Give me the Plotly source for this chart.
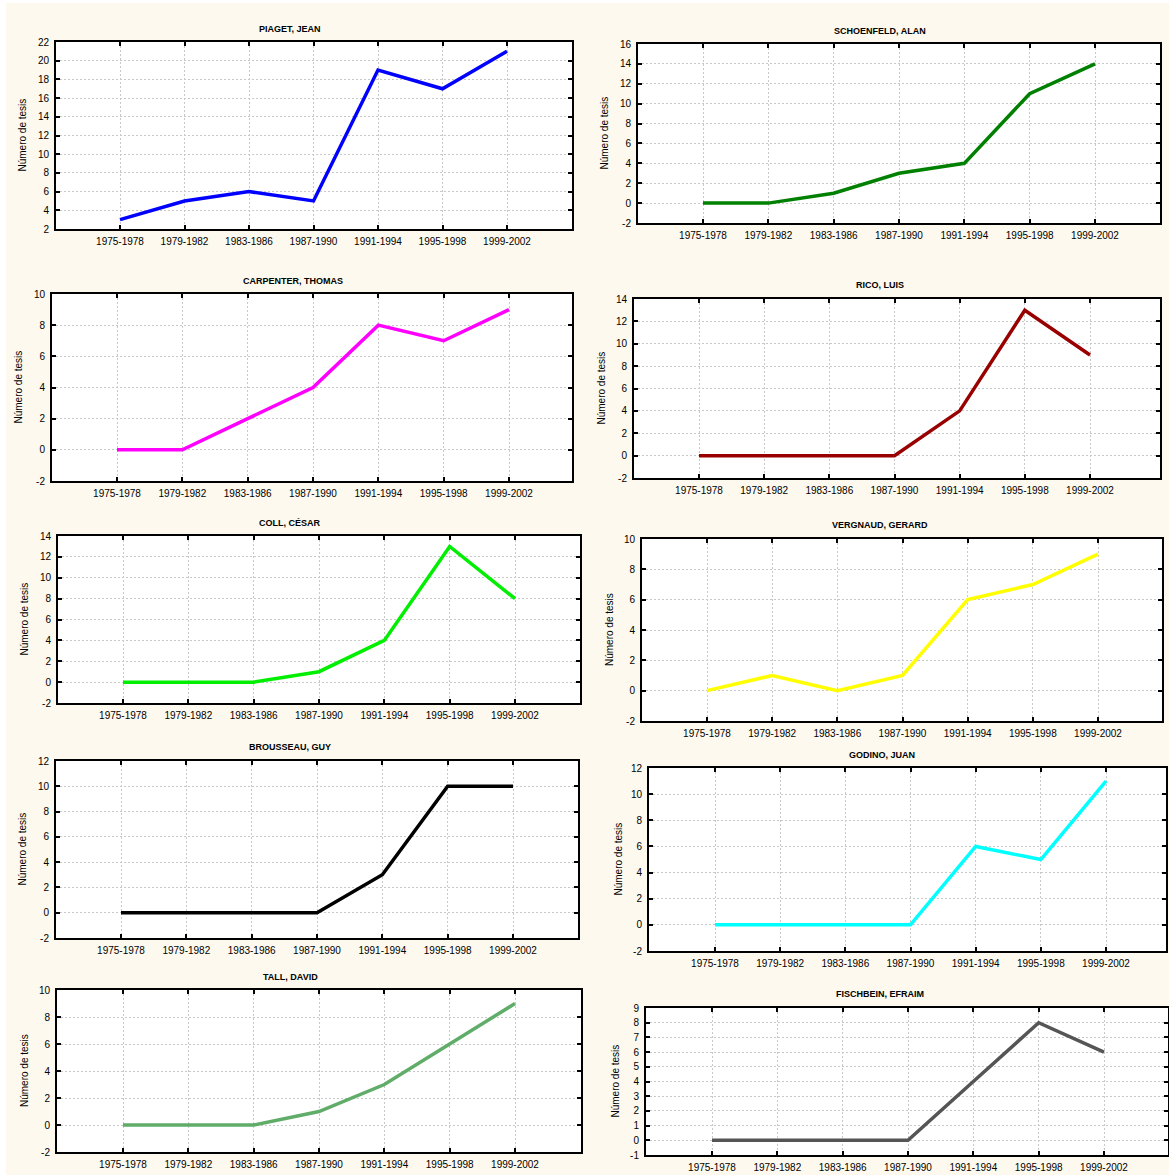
import plotly.graph_objects as go

periods = ["1975-1978", "1979-1982", "1983-1986", "1987-1990", "1991-1994", "1995-1998", "1999-2002"]

names = ["PIAGET, JEAN", "SCHOENFELD, ALAN", "CARPENTER, THOMAS", "RICO, LUIS", "COLL, CÉSAR",
         "VERGNAUD, GERARD", "BROUSSEAU, GUY", "GODINO, JUAN", "TALL, DAVID", "FISCHBEIN, EFRAIM"]

piaget = [3, 5, 6, 5, 19, 17, 21]
schoenfeld = [0, 0, 1, 3, 4, 11, 14]
carpenter = [0, 0, 2, 4, 8, 7, 9]
rico = [0, 0, 0, 0, 4, 13, 9]
coll = [0, 0, 0, 1, 4, 13, 8]
vergnaud = [0, 1, 0, 1, 6, 7, 9]
brousseau = [0, 0, 0, 0, 3, 10, 10]
godino = [0, 0, 0, 0, 6, 5, 11]
tall = [0, 0, 0, 1, 3, 6, 9]
fischbein = [0, 0, 0, 0, 4, 8, 6]

series = [piaget, schoenfeld, carpenter, rico, coll, vergnaud, brousseau, godino, tall, fischbein]
colors = ["#0000ff", "#008000", "#ff00ff", "#990000", "#00ee00",
          "#ffff00", "#000000", "#00ffff", "#5fad68", "#555555"]
y_ranges = [(2, 22), (-2, 16), (-2, 10), (-2, 14), (-2, 14),
            (-2, 10), (-2, 12), (-2, 12), (-2, 10), (-1, 9)]
y_dticks = [2, 2, 2, 2, 2, 2, 2, 2, 2, 1]

# page offset of the figure (small white strip at top/left like the reference)
OX, OY = 6, 3
W, H = 1169 - OX, 1175 - OY

# geometry in window pixels: left, right, top, bottom, first category x, last category x, title y, title x, ytitle x
geom = [
    (56, 572, 42, 229, 120, 507, 29, 290, 22),
    (638, 1160, 44, 223, 703, 1095, 31, 880, 604),
    (52, 572, 294, 481, 117, 509, 281, 293, 18),
    (634, 1160, 299, 478, 699, 1090, 285, 880, 601),
    (58, 580, 536, 703, 123, 515, 523, 290, 24),
    (642, 1162, 539, 721, 707, 1098, 525, 880, 609),
    (56, 578, 761, 938, 121, 513, 747, 290, 22),
    (649, 1166, 768, 951, 715, 1106, 755, 882, 618),
    (57, 581, 990, 1152, 123, 515, 977, 290, 24),
    (646, 1168, 1008, 1155, 712, 1104, 994, 880, 615),
]

font_family = "Liberation Sans, Arial, sans-serif"
fig = go.Figure()
annotations = []
layout_axes = {}


def px(x):
    return (x - OX) / W


def py(y):
    return 1 - (y - OY) / H


for i, (name, vals, col, yr, dt, g) in enumerate(zip(names, series, colors, y_ranges, y_dticks, geom)):
    L, R, T, B, c0, c6, ty, tx, yx = g
    s = (c6 - c0) / 6.0
    xr = [(L - c0) / s, (R - c0) / s]
    k = "" if i == 0 else str(i + 1)
    fig.add_trace(go.Scatter(
        x=list(range(len(periods))), y=vals, mode="lines",
        line=dict(color=col, width=3.5), xaxis="x" + k, yaxis="y" + k,
        showlegend=False, hoverinfo="x+y"))
    common = dict(
        showline=True, linecolor="black", linewidth=2, mirror="ticks",
        ticks="inside", ticklen=4, tickwidth=1.5, tickcolor="black",
        showgrid=True, gridcolor="#c8c8c8", gridwidth=1, griddash="2px,2px",
        zeroline=False, tickfont=dict(family=font_family, size=10, color="black"),
        fixedrange=True, automargin=False,
    )
    yvals = list(range(yr[0], yr[1] + 1, dt))
    layout_axes["xaxis" + k] = dict(
        common, domain=[px(L), px(R)], range=xr, anchor="y" + k,
        tickmode="array", tickvals=list(range(len(periods))), ticktext=periods,
        ticklabelstandoff=2,
    )
    layout_axes["yaxis" + k] = dict(
        common, domain=[py(B), py(T)], range=list(yr), anchor="x" + k,
        tickmode="array", tickvals=yvals, ticktext=[str(v) for v in yvals],
        ticklabelstandoff=3,
    )
    annotations.append(dict(
        text="<b>" + name + "</b>", x=px(tx), y=py(ty), xref="paper", yref="paper",
        showarrow=False, xanchor="center", yanchor="middle",
        font=dict(family=font_family, size=9, color="black")))
    annotations.append(dict(
        text="Número de tesis", x=px(yx), y=py((T + B) / 2), xref="paper", yref="paper",
        showarrow=False, xanchor="center", yanchor="middle", textangle=-90,
        font=dict(family=font_family, size=10, color="black")))

fig.update_layout(
    width=W, height=H, margin=dict(l=0, r=0, t=0, b=0, autoexpand=False),
    paper_bgcolor="#fdf9ee", plot_bgcolor="white",
    annotations=annotations, **layout_axes,
)

fig.write_html(
    "out.html",
    post_script="document.body.style.margin='%dpx 0 0 %dpx';document.body.style.overflow='hidden';" % (OY, OX),
)
